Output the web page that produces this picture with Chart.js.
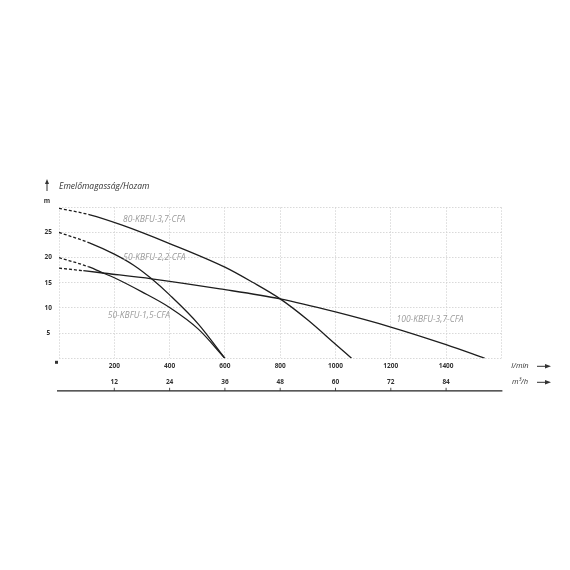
<!DOCTYPE html>
<html lang="hu">
<head>
  <meta charset="UTF-8" />
  <title>Emelőmagasság/Hozam</title>
  <script src="https://cdn.jsdelivr.net/npm/chart.js"></script>
  <style>
    html, body {
      margin: 0;
      padding: 0;
      background: #fff;
    }
    #wrap {
      width: 570px;
      height: 570px;
    }
  </style>
</head>
<body>
  <div id="wrap"><canvas id="pumpChart"></canvas></div>

  <script>
    // flow (l/min) and head (m)
    const flow80 = [0, 112, 226, 400, 600, 700, 800, 900, 1000, 1058];
    const head80 = [29.8, 28.5, 26.5, 22.8, 18.1, 15.1, 11.8, 7.6, 2.8, 0];

    const flow22 = [0, 112, 200, 270, 335, 400, 504, 600];
    const head22 = [25.0, 22.9, 20.7, 18.5, 15.8, 12.6, 6.8, 0];

    const flow15 = [0, 106, 166, 200, 300, 400, 504, 600];
    const head15 = [20.0, 18.2, 16.8, 16.0, 13.2, 10.1, 5.8, 0];

    const flow100 = [0, 88, 166, 335, 582, 800, 1000, 1200, 1400, 1540];
    const head100 = [17.9, 17.4, 16.9, 15.8, 13.8, 11.8, 9.2, 6.2, 2.7, 0];

    const seriesNames = ['80-KBFU-3,7-CFA', '50-KBFU-2,2-CFA', '50-KBFU-1,5-CFA', '100-KBFU-3,7-CFA'];

    const lminTicks = [200, 400, 600, 800, 1000, 1200, 1400];
    const m3hTicks = [12, 24, 36, 48, 60, 72, 84];
    const headTicks = [5, 10, 15, 20, 25];

    const toPoints = (xs, ys) => xs.map((x, i) => ({ x: x, y: ys[i] }));

    const lineStyle = {
      borderColor: '#1e1e1e',
      borderWidth: 1.3,
      pointRadius: 0,
      fill: false,
      showLine: true,
      cubicInterpolationMode: 'monotone',
      segment: {
        borderDash: ctx => ctx.p0DataIndex === 0 ? [3, 2] : undefined
      }
    };

    // where the grey curve names sit, in data units
    const nameSpots = [
      { x: 344, y: 27.5 },
      { x: 345, y: 20.1 },
      { x: 289, y: 8.4 },
      { x: 1342, y: 7.6 }
    ];

    const extras = {
      id: 'extras',
      afterDraw(chart) {
        const ctx = chart.ctx;
        const xs = chart.scales.x, ys = chart.scales.y, x2 = chart.scales.x2;
        const area = chart.chartArea;
        ctx.save();

        // y axis title with arrow
        ctx.fillStyle = '#333';
        ctx.strokeStyle = '#333';
        ctx.font = "italic 8.5px 'Open Sans'";
        ctx.textAlign = 'left';
        ctx.textBaseline = 'middle';
        ctx.fillText('Emelőmagasság/Hozam', area.left, 187);
        ctx.lineWidth = 1;
        ctx.beginPath();
        ctx.moveTo(47, 191);
        ctx.lineTo(47, 183);
        ctx.stroke();
        ctx.beginPath();
        ctx.moveTo(47, 179);
        ctx.lineTo(45, 184);
        ctx.lineTo(49, 184);
        ctx.closePath();
        ctx.fill();

        // unit "m" and origin square
        ctx.font = "bold 6.5px 'Open Sans'";
        ctx.textAlign = 'center';
        ctx.fillText('m', 47, ys.getPixelForValue(30) - 6);
        ctx.fillRect(area.left - 4, area.bottom + 2.5, 3, 3);

        // curve names
        ctx.fillStyle = '#9a9a9a';
        ctx.font = "italic 8.5px 'Open Sans'";
        seriesNames.forEach((name, i) => {
          ctx.fillText(name, xs.getPixelForValue(nameSpots[i].x), ys.getPixelForValue(nameSpots[i].y));
        });

        // axis units with arrows
        ctx.fillStyle = '#333';
        ctx.font = "italic 7.5px 'Open Sans'";
        const unitRows = [
          { text: 'l/min', y: xs.top + 8 },
          { text: 'm³/h', y: x2.top + 7 }
        ];
        unitRows.forEach(r => {
          ctx.textAlign = 'center';
          ctx.fillText(r.text, 520, r.y);
          ctx.beginPath();
          ctx.moveTo(537, r.y);
          ctx.lineTo(546, r.y);
          ctx.stroke();
          ctx.beginPath();
          ctx.moveTo(551, r.y);
          ctx.lineTo(545, r.y - 2.3);
          ctx.lineTo(545, r.y + 2.3);
          ctx.closePath();
          ctx.fill();
        });

        // solid base line under the m3/h scale
        const baseY = x2.bottom - 0.5;
        ctx.strokeStyle = '#222';
        ctx.lineWidth = 1.3;
        ctx.beginPath();
        ctx.moveTo(area.left - 2, baseY);
        ctx.lineTo(area.right + 1, baseY);
        ctx.stroke();
        ctx.lineWidth = 0.8;
        m3hTicks.forEach(v => {
          const px = x2.getPixelForValue(v);
          ctx.beginPath();
          ctx.moveTo(px, baseY);
          ctx.lineTo(px, baseY - 3);
          ctx.stroke();
        });

        ctx.restore();
      }
    };

    const tickFont = { family: "'Open Sans'", size: 6.5, weight: 'bold' };
    const gridStyle = { color: '#cfcfcf', lineWidth: 0.8, drawTicks: false };

    new Chart(document.getElementById('pumpChart'), {
      type: 'scatter',
      data: {
        datasets: [
          Object.assign({ label: seriesNames[0], data: toPoints(flow80, head80) }, lineStyle),
          Object.assign({ label: seriesNames[1], data: toPoints(flow22, head22) }, lineStyle),
          Object.assign({ label: seriesNames[2], data: toPoints(flow15, head15) }, lineStyle),
          Object.assign({ label: seriesNames[3], data: toPoints(flow100, head100) }, lineStyle)
        ]
      },
      options: {
        responsive: true,
        maintainAspectRatio: false,
        animation: false,
        layout: { padding: { left: 0, right: 68.6, top: 207.3, bottom: 178.7 } },
        plugins: {
          legend: { display: false },
          tooltip: { enabled: false }
        },
        scales: {
          x: {
            type: 'linear',
            position: 'bottom',
            weight: 0,
            min: 0,
            max: 1600,
            ticks: {
              stepSize: 200,
              padding: 4,
              color: '#333',
              font: tickFont,
              maxRotation: 0,
              callback: v => lminTicks.includes(v) ? String(v) : ''
            },
            grid: gridStyle,
            border: { display: false, dash: [1.5, 1.5] },
            afterFit: s => { s.height = 17; s.paddingLeft = 0; s.paddingRight = 0; }
          },
          x2: {
            type: 'linear',
            position: 'bottom',
            weight: 1,
            min: 0,
            max: 96,
            ticks: {
              stepSize: 12,
              padding: 3,
              color: '#333',
              font: tickFont,
              maxRotation: 0,
              callback: v => m3hTicks.includes(v) ? String(v) : ''
            },
            grid: { display: false, drawTicks: false },
            border: { display: false },
            afterFit: s => { s.height = 16; s.paddingLeft = 0; s.paddingRight = 0; }
          },
          y: {
            type: 'linear',
            position: 'left',
            min: 0,
            max: 30,
            ticks: {
              stepSize: 5,
              padding: 7,
              crossAlign: 'center',
              color: '#333',
              font: tickFont,
              callback: v => headTicks.includes(v) ? String(v) : ''
            },
            grid: gridStyle,
            border: { display: false, dash: [1.5, 1.5] },
            afterFit: s => { s.width = 59; s.paddingTop = 0; s.paddingBottom = 0; }
          }
        }
      },
      plugins: [extras]
    });
  </script>
</body>
</html>
